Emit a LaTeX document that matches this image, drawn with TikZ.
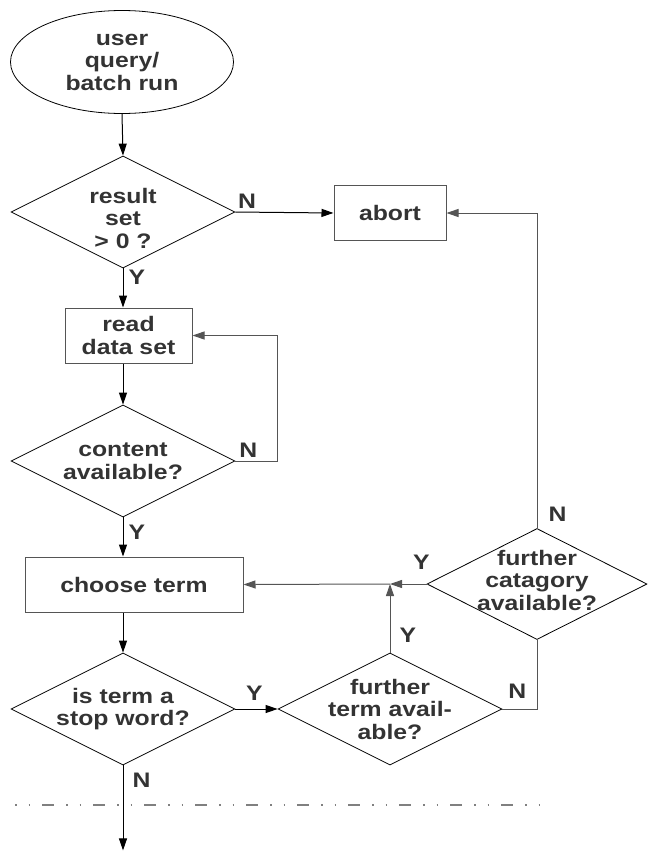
\documentclass[tikz,border=0pt]{standalone}
\usepackage{fontspec}
\newfontfamily\chartfont[FakeStretch=1.18]{Liberation Sans}
\usetikzlibrary{arrows.meta, positioning, calc, shapes.geometric}
\definecolor{txtgray}{HTML}{333333}
\definecolor{linegray}{HTML}{555555}

\begin{document}
\begin{tikzpicture}[
  x=1pt, y=-1pt,
  txt/.style = {font=\fontsize{21}{22.5}\selectfont\chartfont\bfseries, text=txtgray, align=center},
  block/.style = {txt, draw=linegray, line width=1pt, inner sep=0pt},
  decision/.style = {diamond, draw, line width=0.8pt, minimum width=224pt, minimum height=112pt, inner sep=0pt},
  lbl/.style = {txt, inner sep=3pt},
  arrow/.style = {line width=1pt, -{Triangle[length=12pt,width=8pt]}},
  link/.style = {line width=1pt, draw=linegray},
  cut/.style = {draw=gray, line width=1.2pt, dash pattern=on 1.5pt off 12pt on 1.5pt off 12pt on 12pt off 12pt}
]
  \useasboundingbox (0,0) rectangle (648,852);

  % Start
  \node[ellipse, draw, line width=0.8pt, minimum width=223pt, minimum height=103pt, inner sep=0pt, txt] (start) at (122,62) {user\\query/\\batch run};

  % Result check
  \node[decision, label={[txt, yshift=-6pt]center:{result\\set\\> 0 ?}}] (result) at (123,212) {};

  % Abort
  \node[block, minimum width=112pt, minimum height=55pt] (abort) at (390,213) {abort};

  % Read data set
  \node[block, minimum width=127pt, minimum height=55pt] (read) at (128.5,335.5) {read\\data set};

  % Content check
  \node[decision, label={[txt]center:{content\\available?}}] (content) at (123,461) {};

  % Choose term
  \node[block, minimum width=218pt, minimum height=55pt] (choose) at (134,584.5) {choose term};

  % Stop word check
  \node[decision, label={[txt]center:{is term a\\stop word?}}] (stopword) at (123,709) {};

  % Further term
  \node[decision, label={[txt]center:{further\\term avail-\\able?}}] (furtherterm) at (390,709) {};

  % Further category
  \node[decision, minimum width=220pt, minimum height=111pt, label={[txt, yshift=4pt]center:{further\\catagory\\available?}}] (category) at (537,584) {};

  % start -> result
  \draw[arrow] (start.south) -- (result.north);

  % result -> abort / read
  \draw[arrow] (result.east) -- node[lbl, above, pos=0.12] {N} (abort.west);
  \draw[arrow] (result.south) -- node[lbl, right=2pt, pos=0.22] {Y} (result.south |- read.north);

  % read -> content, loop back
  \draw[arrow] (content.north |- read.south) -- (content.north);
  \draw[arrow, linegray] (content.east) -- node[lbl, above, pos=0.31] {N} ++(42,0) |- (read.east);

  % content -> choose -> stopword
  \draw[arrow] (content.south) -- node[lbl, right=2pt, pos=0.38] {Y} (content.south |- choose.north);
  \draw[arrow] (stopword.north |- choose.south) -- (stopword.north);

  % stopword -> further term
  \draw[arrow] (stopword.east) -- node[lbl, above=5pt, pos=0.45] {Y} (furtherterm.west);

  % back to choose term
  \coordinate (jn) at (furtherterm.north |- category.west);
  \draw[arrow, linegray] (category.west) -- node[lbl, above=11pt, pos=0.14] {Y} (jn);
  \draw[arrow, linegray] (jn) -- (choose.east);
  \draw[arrow, linegray] (furtherterm.north) -- node[lbl, right=6pt, pos=0.25] {Y} (jn);

  % further term -> category -> abort
  \draw[link] (furtherterm.east) -- node[lbl, above=7pt, pos=0.43] {N} (furtherterm.east -| category.south) -- (category.south);
  \draw[arrow, linegray] (category.north) |- node[lbl, right=8pt, pos=0.022] {N} (abort.east);

  % stopword -> out
  \coordinate[below=85pt of stopword.south] (out);
  \draw[arrow] (stopword.south) -- node[lbl, right=6pt, pos=0.18] {N} (out);

  % cut line
  \coordinate (cutL) at (15,805);
  \coordinate (cutR) at (540,805);
  \draw[cut] (cutL) -- (cutR);

\end{tikzpicture}
\end{document}
